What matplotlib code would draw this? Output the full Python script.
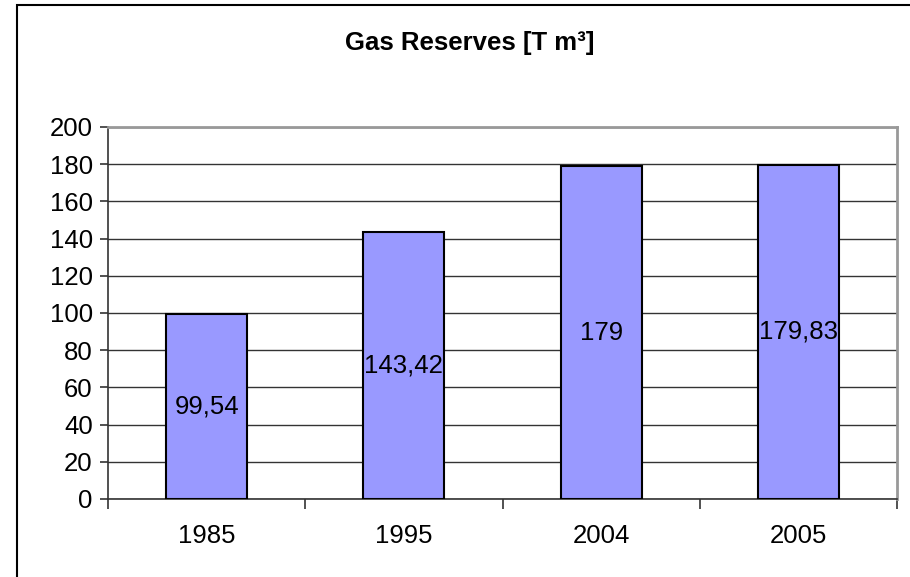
import numpy as np
import matplotlib.pyplot as plt
from matplotlib.patches import Rectangle

plt.rcParams['font.family'] = ['Liberation Sans', 'DejaVu Sans']

# data
years = ['1985', '1995', '2004', '2005']
reserves = [99.54, 143.42, 179, 179.83]
bar_labels = ['99,54', '143,42', '179', '179,83']

fig = plt.figure(figsize=(9.1, 5.77), dpi=100)
fig.patch.set_facecolor('white')

# outer chart border (only left/top visible in the original)
fig.patches.append(Rectangle((17 / 910, -0.05), 1.2, 1 - 5 / 577 + 0.05,
                             transform=fig.transFigure, fill=False,
                             edgecolor='black', linewidth=1.5))

ax = fig.add_axes([108 / 910, 1 - 499 / 577, (897 - 108) / 910, (499 - 127) / 577])

x = np.arange(len(years))
bars = ax.bar(x, reserves, width=0.41, color='#9999FF', edgecolor='black',
              linewidth=1.5, zorder=3)

for b, lab in zip(bars, bar_labels):
    ax.text(b.get_x() + b.get_width() / 2, b.get_height() / 2, lab,
            ha='center', va='center', fontsize=18.5, zorder=4)

ax.set_xlim(-0.5, len(years) - 0.5)
ax.set_ylim(0, 200)
ax.set_yticks(np.arange(0, 201, 20))
ax.yaxis.grid(True, color='#333333', linewidth=1)
ax.set_axisbelow(True)

ax.set_xticks(x)
ax.set_xticklabels(years)
ax.set_xticks(np.arange(-0.5, len(years), 1), minor=True)
ax.tick_params(axis='x', which='major', length=0, pad=18, labelsize=18.5)
ax.tick_params(axis='x', which='minor', length=7, width=1.2, color='#333333')
ax.tick_params(axis='y', length=6, width=1.2, color='#333333', labelsize=18.5, pad=5)

for side in ['left', 'bottom']:
    ax.spines[side].set_color('#333333')
    ax.spines[side].set_linewidth(1.2)
for side in ['top', 'right']:
    ax.spines[side].set_color('#999999')
    ax.spines[side].set_linewidth(2)

fig.text(470 / 910, 1 - 43 / 577, 'Gas Reserves [T m³]', ha='center', va='center',
         fontsize=18.5, fontweight='bold')

fig.savefig('out.png', dpi=100)
